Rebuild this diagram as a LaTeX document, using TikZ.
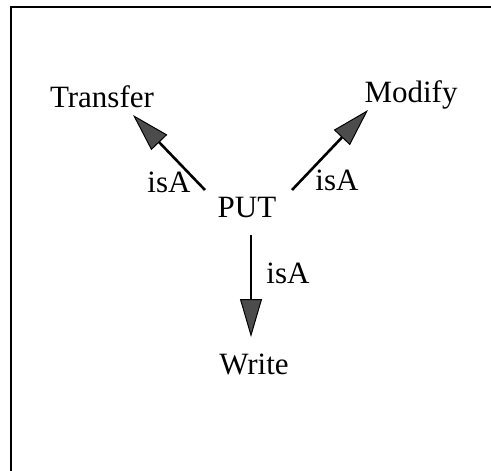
\documentclass[tikz,border=0pt]{standalone}
\usepackage{fontspec}
\setmainfont{Liberation Serif}
\usetikzlibrary{arrows.meta}
\begin{document}
\begin{tikzpicture}[x=1pt,y=-1pt,
  lbl/.style={font=\fontsize{31}{31}\selectfont, inner sep=0pt, anchor=center},
  isalink/.style={line width=2.6pt, -{Triangle[length=38pt,width=22pt,fill=black!70,line width=1pt]}},
  frameline/.style={line width=2pt}]
\useasboundingbox (0,0) rectangle (491,471);
\draw[frameline] (10.5,471) -- (10.5,6.5) -- (491,6.5);
\node[lbl] (transfer) at (102,97) {Transfer};
\node[lbl] (modify) at (411,95) {Modify};
\node[lbl] (put) at (247,208) {PUT};
\node[lbl] (write) at (254,364) {Write};
\coordinate (s1) at (205,190);
\coordinate (t1) at (133,115);
\coordinate (s2) at (292,190);
\coordinate (t2) at (368,110);
\coordinate (s3) at (251,235);
\coordinate (t3) at (251,337);
\draw[isalink] (s1) -- (t1);
\draw[isalink] (s2) -- (t2);
\draw[isalink] (s3) -- (t3);
\node[lbl] (l1) at (169,182) {isA};
\node[lbl] (l2) at (337,180) {isA};
\node[lbl] (l3) at (288,273) {isA};
\end{tikzpicture}
\end{document}
